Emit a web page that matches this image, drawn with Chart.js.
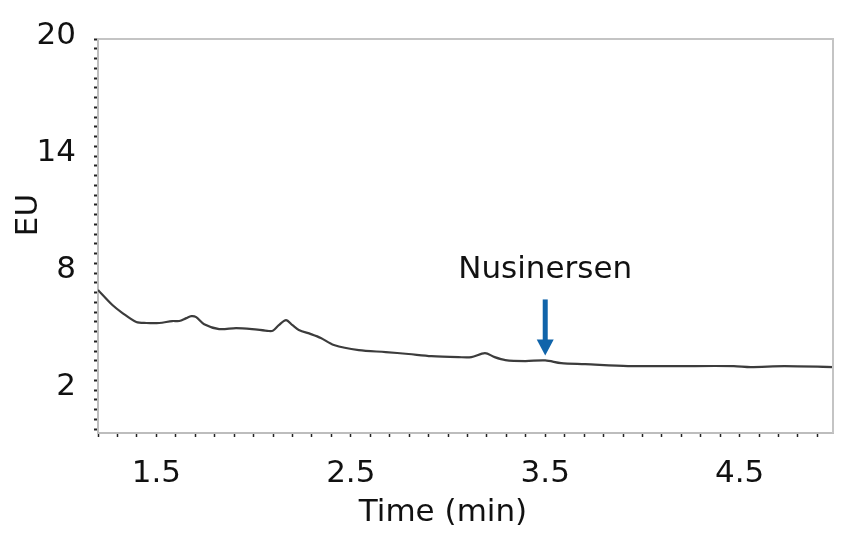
<!DOCTYPE html>
<html>
<head>
<meta charset="utf-8">
<script src="https://cdn.jsdelivr.net/npm/chart.js@4.4.1/dist/chart.umd.min.js"></script>
<style>
  html, body { margin: 0; padding: 0; background: #fff; }
  #wrap { width: 846px; height: 534px; }
</style>
</head>
<body>
<div id="wrap"><canvas id="chart"></canvas></div>
<script>
// retention time (min) and detector response (EU)
const times = [1.2, 1.274, 1.326, 1.397, 1.449, 1.515, 1.582, 1.618, 1.654, 1.68, 1.705, 1.746, 1.823, 1.91, 1.992,
  2.079, 2.1, 2.13, 2.167, 2.2, 2.233, 2.295, 2.346, 2.413, 2.541, 2.68, 2.797, 2.915, 3.054, 3.12, 3.19, 3.24,
  3.295, 3.397, 3.5, 3.582, 3.705, 3.926, 4.18, 4.47, 4.556, 4.73, 4.98];
const eu = [7.13, 6.36, 5.95, 5.49, 5.44, 5.44, 5.54, 5.54, 5.69, 5.79, 5.74, 5.38, 5.13, 5.18, 5.13,
  5.03, 5.05, 5.33, 5.59, 5.33, 5.08, 4.87, 4.67, 4.31, 4.05, 3.95, 3.85, 3.74, 3.69, 3.69, 3.9, 3.69,
  3.54, 3.49, 3.52, 3.38, 3.33, 3.23, 3.23, 3.23, 3.18, 3.23, 3.18];

const xLabels = [1.5, 2.5, 3.5, 4.5];
const yLabels = [2, 8, 14, 20];
const peakName = 'Nusinersen';
const peakTime = 3.5;

const FONT = '"DejaVu Sans", Verdana, sans-serif';

function hasLabel(list, v) {
  return list.some(l => Math.abs(l - v) < 1e-6);
}

// top/right frame, peak arrow and axis titles
const decorations = {
  id: 'decorations',
  afterDraw(chart) {
    const { ctx, chartArea: a, scales: { x, y } } = chart;
    ctx.save();

    ctx.strokeStyle = '#c4c4c4';
    ctx.lineWidth = 2;
    ctx.beginPath();
    ctx.moveTo(a.left, a.top);
    ctx.lineTo(a.right, a.top);
    ctx.lineTo(a.right, a.bottom);
    ctx.stroke();

    const i = times.indexOf(peakTime);
    const px = x.getPixelForValue(peakTime);
    const py = y.getPixelForValue(eu[i]);
    const tip = py - 5;
    ctx.fillStyle = '#1064aa';
    ctx.fillRect(px - 2.5, tip - 56, 5, 42);
    ctx.beginPath();
    ctx.moveTo(px - 8.5, tip - 16);
    ctx.lineTo(px + 8.5, tip - 16);
    ctx.lineTo(px, tip);
    ctx.closePath();
    ctx.fill();

    ctx.fillStyle = '#111';
    ctx.font = '31px ' + FONT;
    ctx.textAlign = 'center';
    ctx.textBaseline = 'middle';
    ctx.fillText(peakName, px, py - 90);

    ctx.fillText('Time (min)', 443, 513);
    ctx.translate(29, 215);
    ctx.rotate(-Math.PI / 2);
    ctx.fillText('EU', 0, 0);
    ctx.restore();
  }
};

new Chart(document.getElementById('chart'), {
  type: 'scatter',
  data: {
    datasets: [{
      data: times.map((t, i) => ({ x: t, y: eu[i] })),
      showLine: true,
      borderColor: '#3c3c3c',
      borderWidth: 2.2,
      pointRadius: 0,
      tension: 0.3
    }]
  },
  options: {
    responsive: true,
    maintainAspectRatio: false,
    animation: false,
    layout: { padding: { left: 0, right: 13, top: 39, bottom: 0 } },
    plugins: { legend: { display: false }, tooltip: { enabled: false } },
    scales: {
      x: {
        type: 'linear',
        min: 1.2,
        max: 4.98,
        afterFit: s => { s.height = 101; },
        border: { color: '#bdbdbd', width: 2 },
        grid: { drawOnChartArea: false, tickLength: 4, tickColor: '#222', tickWidth: 1.5 },
        ticks: {
          stepSize: 0.1,
          includeBounds: false,
          autoSkip: false,
          maxRotation: 0,
          padding: 18,
          color: '#111',
          font: { family: FONT, size: 31 },
          callback: v => hasLabel(xLabels, v) ? v.toFixed(1) : ''
        }
      },
      y: {
        min: -0.2,
        max: 20,
        afterFit: s => { s.width = 98; },
        border: { color: '#bdbdbd', width: 2 },
        grid: { drawOnChartArea: false, tickLength: 4, tickColor: '#222', tickWidth: 2 },
        ticks: {
          stepSize: 0.5,
          includeBounds: false,
          autoSkip: false,
          padding: 18,
          labelOffset: -3,
          color: '#111',
          font: { family: FONT, size: 31 },
          callback: v => hasLabel(yLabels, v) ? String(v) : ''
        }
      }
    }
  },
  plugins: [decorations]
});
</script>
</body>
</html>
